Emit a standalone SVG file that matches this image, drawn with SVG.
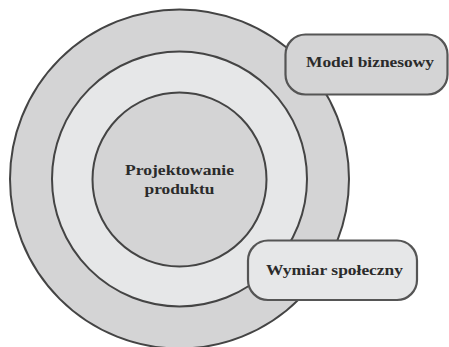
<svg xmlns="http://www.w3.org/2000/svg" width="449" height="347" viewBox="0 0 449 347">
  <style>
    .ring { stroke: #444; stroke-width: 2; }
    .dark { fill: #d4d4d5; }
    .light { fill: #e6e7e8; }
    .box { stroke: #555; stroke-width: 2.2; }
    .label { font-family: "Liberation Serif", "DejaVu Serif", serif; font-weight: bold; font-size: 15.5px; fill: #2b2b2b; text-anchor: middle; }
  </style>
  <rect width="449" height="347" fill="#ffffff"/>
  <g id="outer-ring">
    <circle class="ring dark" cx="179.5" cy="179" r="169.5"/>
  </g>
  <g id="middle-ring">
    <circle class="ring light" cx="179.5" cy="179" r="127.5"/>
  </g>
  <g id="core">
    <circle class="ring dark" cx="179.5" cy="179.5" r="87"/>
    <text class="label" x="179.5" y="175" textLength="109" lengthAdjust="spacingAndGlyphs">Projektowanie</text>
    <text class="label" x="179.5" y="194" textLength="70" lengthAdjust="spacingAndGlyphs">produktu</text>
  </g>
  <g id="model-biznesowy">
    <rect class="box dark" x="285.5" y="34.5" width="162" height="60" rx="20" ry="20"/>
    <text class="label" x="370" y="67" textLength="128" lengthAdjust="spacingAndGlyphs">Model biznesowy</text>
  </g>
  <g id="wymiar-spoleczny">
    <rect class="box light" x="248" y="240.5" width="169" height="59.5" rx="20" ry="20"/>
    <text class="label" x="334.5" y="275" textLength="137" lengthAdjust="spacingAndGlyphs">Wymiar społeczny</text>
  </g>
  <g id="connectors"/>
</svg>
